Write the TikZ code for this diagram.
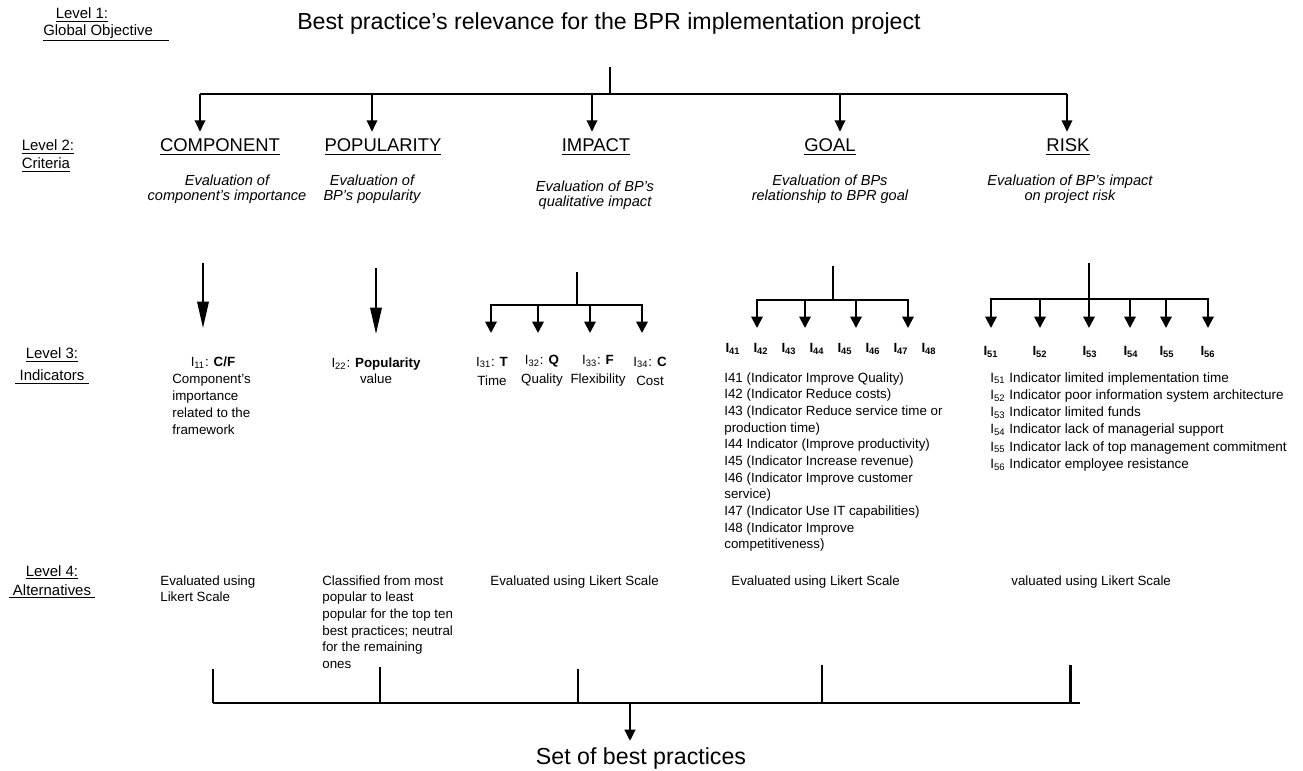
\documentclass[tikz,border=0pt]{standalone}
\usepackage{fontspec}
\setmainfont{Liberation Sans}
\usetikzlibrary{positioning, arrows.meta}

\tikzset{
	lvl/.style={font=\fontsize{8.5}{10.5}\selectfont, align=center},
	head/.style={font=\fontsize{13.2}{15}\selectfont},
	crit/.style={font=\fontsize{10.5}{12}\selectfont, inner sep=1pt, outer sep=3pt},
	desc/.style={font=\fontsize{8.3}{8.6}\selectfont\itshape, align=center},
	ind/.style={font=\fontsize{7.6}{9.5}\selectfont, align=center, inner sep=0pt},
	txt/.style={font=\fontsize{7.6}{9.5}\selectfont, align=left, inner sep=0pt},
	bar/.style={line width=1.7pt},
	stem/.style={line width=1.1pt},
	toparr/.style={line width=1.1pt, -{Triangle[width=6pt,length=6.5pt]}},
	longarr/.style={line width=1.1pt, -{Triangle[width=6.5pt,length=15pt]}},
	subarr/.style={line width=1.1pt, -{Triangle[width=6.5pt,length=6.5pt]}},
}

\begin{document}
\begin{tikzpicture}[x=0.02cm, y=-0.02cm]
	\useasboundingbox (0,0) rectangle (1303,771);

	% level 1
	\node[lvl] (lev1) at (82,15) {\underline{Level 1:}};
	\node[lvl] (lev1b) at (106,33) {\underline{Global Objective\hspace{9pt}}};
	\node[head] (objective) at (609,24) {Best practice’s relevance for the BPR implementation project};

	\coordinate (t0) at (610,67);
	\coordinate (t1) at (610,94);
	\coordinate (b1) at (200,94);
	\coordinate (b2) at (372,94);
	\coordinate (b3) at (592,94);
	\coordinate (b4) at (840,94);
	\coordinate (b5) at (1067,94);
	\draw[stem] (t0) -- (t1);
	\draw[bar] (b1) -- (b5);

	% level 2
	\node[lvl, align=left, font=\fontsize{8.5}{10.2}\selectfont] (lev2) at (48,156) {\underline{Level 2:}\\\underline{Criteria}};
	\node[crit] (comp) at (220,147) {\underline{COMPONENT}};
	\node[crit] (pop) at (383,147) {\underline{POPULARITY}};
	\node[crit] (imp) at (596,147) {\underline{IMPACT}};
	\node[crit] (goal) at (830,147) {\underline{GOAL}};
	\node[crit] (risk) at (1068,147) {\underline{RISK}};
	\foreach \b/\c in {b1/comp, b2/pop, b3/imp, b4/goal, b5/risk}
		\draw[toparr] (\b) -- (\b |- \c.north);

	\node[desc] (compd) at (227,189) {Evaluation of\\component’s importance};
	\node[desc] (popd) at (372,189) {Evaluation of\\BP’s popularity};
	\node[desc] (impd) at (595,195) {Evaluation of BP’s\\qualitative impact};
	\node[desc] (goald) at (830,189) {Evaluation of BPs\\relationship to BPR goal};
	\node[desc] (riskd) at (1070,189) {Evaluation of BP’s impact\\on project risk};

	% level 3
	\node[lvl, font=\fontsize{8.5}{12.3}\selectfont] (lev3) at (52,366) {\underline{Level 3:}\\\underline{\ Indicators\ }};

	\coordinate (c1) at (203,263);
	\coordinate (c1e) at (203,328);
	\draw[longarr] (c1) -- (c1e);
	\node[ind] (i11) at (213,363) {I\textsubscript{11}: \textbf{C/F}};
	\node[txt, anchor=north west, font=\fontsize{7.6}{9.6}\selectfont] (i11d) at (172,374) {Component’s\\importance\\related to the\\framework};

	\coordinate (p1) at (376,268);
	\coordinate (p1e) at (376,334);
	\draw[longarr] (p1) -- (p1e);
	\node[ind, font=\fontsize{7.6}{9}\selectfont] (i22) at (376,371) {I\textsubscript{22}: \textbf{Popularity}\\value};

	\coordinate (m0) at (577,272);
	\coordinate (m1) at (577,305);
	\draw[stem] (m0) -- (m1);
	\draw[stem] (491,305) -- (642,305);
	\foreach \x in {491,538,590,642}
		\draw[subarr] (\x,304) -- (\x,333);
	\foreach \x/\k/\t/\w in {492/31/T/Time, 542/32/Q/Quality, 598/33/F/Flexibility, 650/34/C/Cost}
		\node[ind, font=\fontsize{7.6}{10.8}\selectfont] (i\k) at (\x,371) {I\textsubscript{\k}: \textbf{\t}\\\w};

	\coordinate (g0) at (833,266);
	\coordinate (g1) at (833,300);
	\draw[stem] (g0) -- (g1);
	\draw[stem] (757,300) -- (908,300);
	\foreach \x in {757,805,856,908}
		\draw[subarr] (\x,299) -- (\x,328);
	\foreach \k [count=\i from 0] in {41,...,48}
		\node[ind] (i\k) at (733+28*\i,349) {\textbf{I\textsubscript{\k}}};
	\node[txt, anchor=north west] (goall) at (724,372) {I41 (Indicator Improve Quality)\\I42 (Indicator Reduce costs)\\I43 (Indicator Reduce service time or\\production time)\\I44 Indicator (Improve productivity)\\I45 (Indicator Increase revenue)\\I46 (Indicator Improve customer\\service)\\I47 (Indicator Use IT capabilities)\\I48 (Indicator Improve\\competitiveness)};

	\coordinate (r0) at (1089,263);
	\coordinate (r1) at (1089,299);
	\draw[stem] (r0) -- (r1);
	\draw[stem] (991,299) -- (1208,299);
	\foreach \x in {991,1040,1089,1130,1166,1208}
		\draw[subarr] (\x,298) -- (\x,328);
	\foreach \x/\k in {991/51,1040/52,1090/53,1131/54,1167/55,1208/56}
		\node[ind] (i\k) at (\x,352) {\textbf{I\textsubscript{\k}}};
	\node[txt, anchor=north west, font=\fontsize{7.7}{9.8}\selectfont] (riskl) at (990,372) {I\textsubscript{51} Indicator limited implementation time\\I\textsubscript{52} Indicator poor information system architecture\\I\textsubscript{53} Indicator limited funds\\I\textsubscript{54} Indicator lack of managerial support\\I\textsubscript{55} Indicator lack of top management commitment\\I\textsubscript{56} Indicator employee resistance};

	% level 4
	\node[lvl, font=\fontsize{8.5}{10.8}\selectfont] (lev4) at (52,582) {\underline{Level 4:}\\\underline{\ Alternatives\ }};
	\node[txt, anchor=north west] (alt1) at (160,575) {Evaluated using\\Likert Scale};
	\node[txt, anchor=north west] (alt2) at (322,575) {Classified from most\\popular to least\\popular for the top ten\\best practices; neutral\\for the remaining\\ones};
	\node[txt, anchor=north west] (alt3) at (490,575) {Evaluated using Likert Scale};
	\node[txt, anchor=north west] (alt4) at (731,575) {Evaluated using Likert Scale};
	\node[txt, anchor=north west] (alt5) at (1011,575) {valuated using Likert Scale};

	\coordinate (s1) at (213,669);
	\coordinate (s2) at (380,667);
	\coordinate (s3) at (578,669);
	\coordinate (s4) at (822,665);
	\coordinate (s5) at (1070,665);
	\foreach \s in {s1,s2,s3,s4,s5}
		\draw[bar] (\s) -- (\s |- 0,703);
	\draw[bar] (213,703) -- (1080,703);

	\node[head] (set) at (641,758) {Set of best practices};
	\coordinate (d0) at (630,703);
	\draw[toparr, line width=1.7pt] (d0) -- (d0 |- set.north);
\end{tikzpicture}
\end{document}
